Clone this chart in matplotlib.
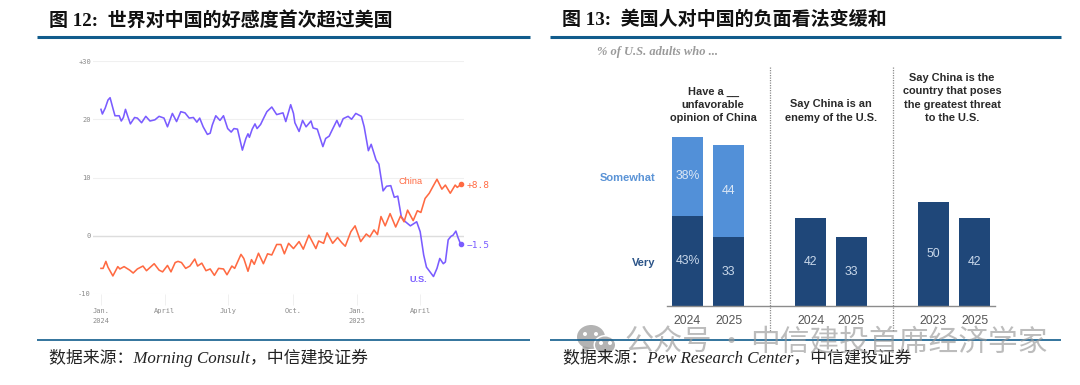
# coding=UTF-8
# 图12 / 图13: 世界对中美好感度 + 美国人对中国看法

import matplotlib
matplotlib.use('Agg')
import matplotlib.pyplot as plt
from matplotlib.patches import Ellipse, Polygon

W, H = 1080, 385

# ---- 左图数据 (days since 2024-01-01)
us_days = [0, 2, 6, 10, 13, 17, 20, 26, 29, 32, 35, 38, 42, 48, 52, 58, 64, 70, 77, 83, 90, 95, 102, 108, 114,
           120, 126, 132, 137, 141, 146, 152, 156, 159, 164, 170, 175, 181, 186, 190, 195, 202, 207, 210, 212,
           216, 220, 223, 228, 232, 237, 244, 251, 260, 264, 271, 275, 277, 283, 288, 293, 300, 303, 309, 317,
           321, 326, 330, 337, 341, 346, 353, 358, 364, 372, 376, 382, 386, 393, 397, 403, 408, 414, 419, 424,
           429, 433, 442, 451, 456, 461, 465, 470, 475, 480, 484, 489, 492, 496, 500, 503, 507, 510, 514]
us_vals = [21.7, 20.9, 21.9, 23.3, 23.7, 21.9, 20.6, 20.6, 19.7, 20.3, 21.7, 20.6, 19.2, 20.3, 20.2, 19.4, 20.5,
           19.7, 19.9, 20.5, 20.2, 18.7, 21.0, 19.6, 21.3, 21.1, 20.2, 20.3, 19.5, 20.2, 18.7, 17.4, 17.6, 19.0,
           20.6, 19.8, 20.6, 18.4, 17.8, 18.4, 18.3, 14.7, 16.7, 17.5, 16.9, 18.3, 19.2, 18.4, 19.1, 20.1, 21.3,
           22.1, 20.8, 21.1, 19.6, 22.5, 21.0, 19.4, 17.9, 19.8, 18.7, 19.7, 18.5, 18.3, 15.3, 16.7, 17.1, 18.1,
           19.8, 18.7, 20.1, 20.5, 20.0, 21.0, 20.5, 18.7, 14.6, 15.7, 13.0, 12.3, 7.7, 8.5, 8.6, 6.6, 6.8, 3.3,
           2.6, 1.7, 2.4, 0.7, -3.3, -5.4, -6.2, -7.0, -5.6, -3.9, -4.8, -4.5, -0.7, -0.1, 0.1, 0.8, -0.3, -1.5]
china_days = [0, 3, 7, 10, 17, 24, 27, 33, 41, 46, 52, 60, 65, 76, 83, 88, 95, 100, 106, 110, 115, 121, 127, 134,
              138, 144, 150, 156, 162, 168, 175, 180, 187, 191, 200, 204, 210, 215, 219, 225, 232, 238, 244, 251,
              257, 262, 268, 275, 283, 289, 297, 307, 311, 318, 323, 331, 338, 344, 349, 357, 363, 371, 379, 384,
              390, 395, 400, 406, 413, 421, 428, 433, 438, 446, 452, 457, 463, 469, 474, 480, 487, 492, 499, 506,
              509, 514]
china_vals = [-5.6, -5.6, -4.4, -5.4, -6.9, -5.3, -5.7, -5.3, -5.9, -6.4, -5.7, -5.2, -6.0, -4.8, -5.9, -6.2, -5.1,
              -6.2, -4.6, -4.4, -4.6, -5.6, -5.2, -4.0, -5.2, -4.7, -6.0, -5.7, -6.8, -5.6, -5.7, -6.7, -5.2, -5.6,
              -3.2, -3.9, -6.1, -4.1, -4.9, -3.0, -4.8, -3.1, -3.3, -1.5, -1.5, -3.1, -1.3, -2.2, -1.0, -2.3, 0.1,
              -2.2, -0.9, -1.3, 0.5, -1.3, -0.3, -1.2, -1.8, 0.7, 1.7, -1.0, 0.3, -0.2, 1.0, 0.2, 3.3, 1.7, 3.8,
              1.5, 3.4, 2.4, 4.4, 2.6, 4.3, 4.0, 6.4, 7.3, 8.4, 9.7, 8.0, 8.7, 7.3, 8.7, 8.3, 8.8]
left_yticks = [30, 20, 10, 0, -10]
left_ylabels = ['+30', '20', '10', '0', '-10']
left_xticks = [0, 91, 182, 274, 366, 456]
left_xlabels = ['Jan.\n2024', 'April', 'July', 'Oct.', 'Jan.\n2025', 'April']

# ---- 右图数据
bar_pos = [0, 1, 3, 4, 6, 7]
bar_years = ['2024', '2025', '2024', '2025', '2023', '2025']
very_vals = [43, 33, 42, 33, 50, 42]
very_labels = ['43%', '33', '42', '33', '50', '42']
somewhat_vals = [38, 44]
somewhat_labels = ['38%', '44']
separators = [2, 5]

PURPLE = '#7a5cff'
ORANGE = '#ff6a42'
DARK = '#1f4779'
LIGHT = '#5290d8'
RULE = '#115c8c'
SERIF = ['Liberation Serif', 'Noto Sans CJK SC']


def add_px_axes(fig, x0, y0, x1, y1):
    # y0在上 y1在下, 都是像素
    return fig.add_axes([x0 / W, 1 - y1 / H, (x1 - x0) / W, (y1 - y0) / H])


fig = plt.figure(figsize=(W / 100, H / 100), dpi=100, facecolor='white')

# 左图
ax = add_px_axes(fig, 93, 61, 464, 294)
ax.set_xlim(-11.4, 518.6)
ax.set_ylim(-10, 30)
for s in ax.spines.values():
    s.set_visible(False)
ax.set_yticks(left_yticks)
ax.set_yticklabels(left_ylabels, family='DejaVu Sans Mono', fontsize=5, color='#8a8a8a')
ax.set_xticks(left_xticks)
ax.set_xticklabels(left_xlabels, family='DejaVu Sans Mono', fontsize=5, color='#8a8a8a', linespacing=1.75)
ax.tick_params(axis='y', length=0, pad=1.5)
ax.tick_params(axis='x', length=8, width=0.6, color='#eeeeee', pad=2)
ax.grid(axis='y', color='#f0f0f0', lw=0.8)
ax.set_axisbelow(True)
ax.axhline(0, color='#dddddd', lw=1.0, zorder=1)
ax.plot(us_days, us_vals, color=PURPLE, lw=1.15, clip_on=False, zorder=3)
ax.plot(china_days, china_vals, color=ORANGE, lw=1.15, clip_on=False, zorder=4)
ax.plot(us_days[-1], us_vals[-1], 'o', color=PURPLE, ms=3, clip_on=False, zorder=5)
ax.plot(china_days[-1], china_vals[-1], 'o', color=ORANGE, ms=3, clip_on=False, zorder=5)

# 右图
ax2 = add_px_axes(fig, 667, 118, 995, 306)
ax2.set_xlim(-0.5, 7.5)
ax2.set_ylim(0, 188 / 2.09)
ax2.patch.set_alpha(0)
for s in ['top', 'left', 'right']:
    ax2.spines[s].set_visible(False)
ax2.spines['bottom'].set_color('#8c8c8c')
ax2.spines['bottom'].set_linewidth(1.0)
ax2.set_yticks([])
ax2.bar(bar_pos, very_vals, width=0.76, color=DARK)
ax2.bar(bar_pos[:2], somewhat_vals, width=0.76, bottom=very_vals[:2], color=LIGHT)
for x, v, t in zip(bar_pos, very_vals, very_labels):
    ax2.text(x, v / 2, t, ha='center', va='center', color='#c9d8ea', fontsize=8.8, family='Liberation Sans')
for x, b, v, t in zip(bar_pos, very_vals, somewhat_vals, somewhat_labels):
    ax2.text(x, b + v / 2, t, ha='center', va='center', color='#dbe7f5', fontsize=8.8, family='Liberation Sans')
ax2.set_xticks(bar_pos)
ax2.set_xticklabels(bar_years, fontsize=8.8, color='#555555', family='Liberation Sans')
ax2.tick_params(axis='x', length=0, pad=6.5)

# 覆盖层: 像素坐标, 放标题/横线/注释
ov = fig.add_axes([0, 0, 1, 1], zorder=10)
ov.set_xlim(0, W)
ov.set_ylim(H, 0)
ov.axis('off')
ov.patch.set_alpha(0)

ov.text(411, 182, 'China', color=ORANGE, fontsize=6.6, family='Liberation Sans', ha='center', va='center')
ov.text(418, 279, 'U.S.', color=PURPLE, fontsize=6.6, family='Liberation Sans', weight='bold', ha='center', va='center')
ov.text(467, 185, '+8.8', color=ORANGE, fontsize=6.8, family='DejaVu Sans Mono', va='center')
ov.text(467, 245, '−1.5', color=PURPLE, fontsize=6.8, family='DejaVu Sans Mono', va='center')

for x in separators:
    px = 687.5 + x * 41
    ov.plot([px, px], [67, 332], color='#8c8c8c', lw=0.9, ls=(0, (1, 1)))

ov.text(597, 52, '% of U.S. adults who ...', color='#9a9a9a', fontsize=9, family='Liberation Serif',
        style='italic', weight='bold', va='center')
ov.text(713, 105, 'Have a __\nunfavorable\nopinion of China', color='#2a2a2a', fontsize=7.9,
        family='Liberation Sans', weight='bold', ha='center', va='center', linespacing=1.42)
ov.text(831, 111, 'Say China is an\nenemy of the U.S.', color='#2a2a2a', fontsize=7.9,
        family='Liberation Sans', weight='bold', ha='center', va='center', linespacing=1.42)
ov.text(952, 98, 'Say China is the\ncountry that poses\nthe greatest threat\nto the U.S.', color='#2a2a2a',
        fontsize=7.9, family='Liberation Sans', weight='bold', ha='center', va='center', linespacing=1.42)
ov.text(655, 178, 'Somewhat', color='#5a93d6', fontsize=8, family='Liberation Sans', weight='bold', ha='right', va='center')
ov.text(655, 263, 'Very', color='#2b5488', fontsize=8, family='Liberation Sans', weight='bold', ha='right', va='center')

# 标题
ov.text(49, 20, '图 12:  世界对中国的好感度首次超过美国', fontsize=13.7, weight='bold', family=SERIF, color='#111111', va='center')
ov.text(562, 20, '图 13:  美国人对中国的负面看法变缓和', fontsize=13.7, weight='bold', family=SERIF, color='#111111', va='center')
for a, b in [(37, 530), (550, 1061)]:
    ov.plot([a, b], [36.5, 36.5], color=RULE, lw=2.2, solid_capstyle='butt')
    ov.plot([a, b], [340, 340], color=RULE, lw=1.2, solid_capstyle='butt')

# 数据来源 (全角冒号/逗号)
ov.text(49, 358, '数据来源\uff1aMorning Consult\uff0c中信建投证券', fontsize=12.2, style='italic', family=SERIF, color='#222222', va='center')
ov.text(563, 358, '数据来源\uff1aPew Research Center\uff0c中信建投证券', fontsize=12.2, style='italic', family=SERIF, color='#222222', va='center')

# 水印
wm = '#9a9a9a'
ov.add_patch(Ellipse((591, 337), 28, 24, color=wm, alpha=0.75, lw=0))
ov.add_patch(Polygon([[583, 346], [581, 354], [591, 348]], color=wm, alpha=0.75, lw=0))
ov.add_patch(Ellipse((605, 345), 23, 20, color='white', lw=0))
ov.add_patch(Ellipse((605, 345), 20, 17, color=wm, alpha=0.75, lw=0))
for ex, ey in [(585, 334), (596, 334), (601, 343), (610, 343)]:
    ov.add_patch(Ellipse((ex, ey), 4, 4, color='white', lw=0))
CJK = ['Noto Sans CJK SC', 'DejaVu Sans']
ov.text(625, 343, '公众号', fontsize=21, color='#999999', alpha=0.65, family=CJK, va='center')
ov.text(731, 343, '·', fontsize=21, color='#999999', alpha=0.65, family=CJK, va='center', ha='center')
ov.text(750, 343, '中信建投首席经济学家', fontsize=21.4, color='#999999', alpha=0.65, family=CJK, va='center')

fig.savefig('out.png', dpi=100)
